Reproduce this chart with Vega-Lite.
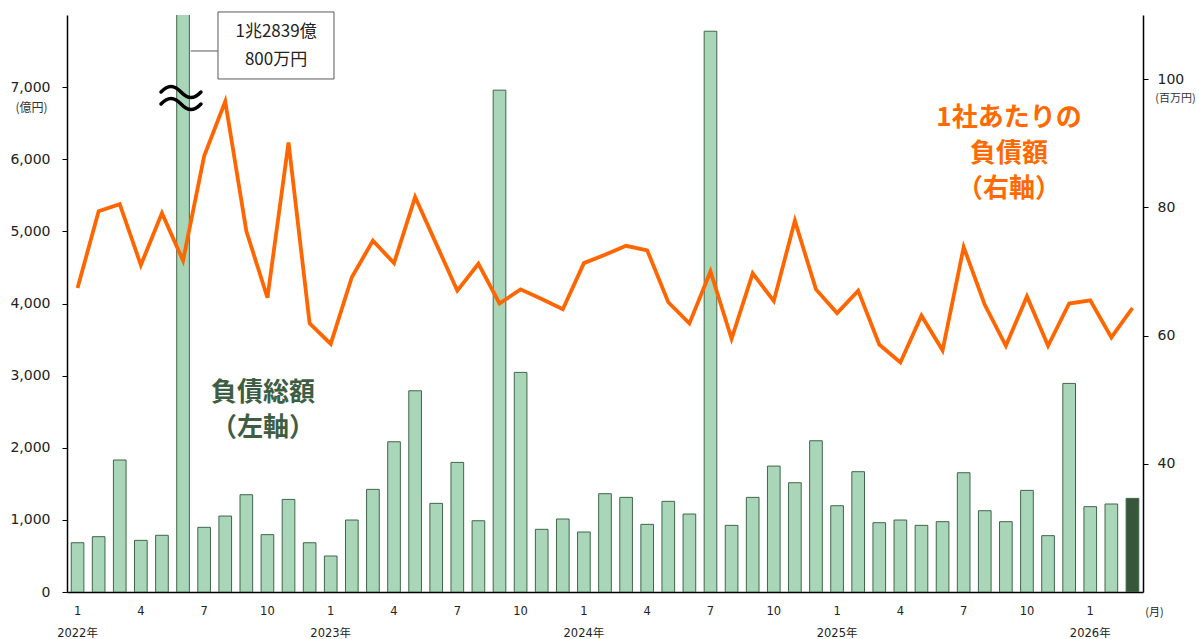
{
  "$schema": "https://vega.github.io/schema/vega-lite/v6.json",
  "width": 1076,
  "height": 577,
  "autosize": {"type": "none"},
  "padding": {"left": 67, "top": 15, "right": 56, "bottom": 47},
  "background": "white",
  "config": {"view": {"stroke": null}, "font": "DejaVu Sans"},
  "datasets": {
    "main": [
      {"m": "2022-01", "total": 683, "per": 67.4},
      {"m": "2022-02", "total": 767, "per": 79.4},
      {"m": "2022-03", "total": 1830, "per": 80.5},
      {"m": "2022-04", "total": 716, "per": 71.0},
      {"m": "2022-05", "total": 786, "per": 79.1},
      {"m": "2022-06", "total": 12839, "per": 71.7},
      {"m": "2022-07", "total": 897, "per": 88.0},
      {"m": "2022-08", "total": 1053, "per": 96.5},
      {"m": "2022-09", "total": 1349, "per": 76.3},
      {"m": "2022-10", "total": 795, "per": 65.9},
      {"m": "2022-11", "total": 1284, "per": 90.1},
      {"m": "2022-12", "total": 683, "per": 61.9},
      {"m": "2023-01", "total": 499, "per": 58.7},
      {"m": "2023-02", "total": 998, "per": 69.1},
      {"m": "2023-03", "total": 1423, "per": 74.8},
      {"m": "2023-04", "total": 2083, "per": 71.3},
      {"m": "2023-05", "total": 2790, "per": 81.6},
      {"m": "2023-06", "total": 1229, "per": 74.3},
      {"m": "2023-07", "total": 1797, "per": 67.0},
      {"m": "2023-08", "total": 988, "per": 71.2},
      {"m": "2023-09", "total": 6958, "per": 65.0},
      {"m": "2023-10", "total": 3045, "per": 67.2},
      {"m": "2023-11", "total": 869, "per": 65.7},
      {"m": "2023-12", "total": 1012, "per": 64.1},
      {"m": "2024-01", "total": 832, "per": 71.3},
      {"m": "2024-02", "total": 1363, "per": 72.6},
      {"m": "2024-03", "total": 1312, "per": 74.0},
      {"m": "2024-04", "total": 938, "per": 73.3},
      {"m": "2024-05", "total": 1257, "per": 65.2},
      {"m": "2024-06", "total": 1081, "per": 61.9},
      {"m": "2024-07", "total": 7775, "per": 70.0},
      {"m": "2024-08", "total": 924, "per": 59.5},
      {"m": "2024-09", "total": 1312, "per": 69.7},
      {"m": "2024-10", "total": 1746, "per": 65.4},
      {"m": "2024-11", "total": 1515, "per": 77.9},
      {"m": "2024-12", "total": 2097, "per": 67.2},
      {"m": "2025-01", "total": 1196, "per": 63.5},
      {"m": "2025-02", "total": 1668, "per": 67.0},
      {"m": "2025-03", "total": 961, "per": 58.6},
      {"m": "2025-04", "total": 998, "per": 55.8},
      {"m": "2025-05", "total": 924, "per": 63.1},
      {"m": "2025-06", "total": 975, "per": 57.7},
      {"m": "2025-07", "total": 1654, "per": 73.8},
      {"m": "2025-08", "total": 1127, "per": 64.8},
      {"m": "2025-09", "total": 975, "per": 58.4},
      {"m": "2025-10", "total": 1409, "per": 66.1},
      {"m": "2025-11", "total": 781, "per": 58.4},
      {"m": "2025-12", "total": 2892, "per": 65.0},
      {"m": "2026-01", "total": 1183, "per": 65.5},
      {"m": "2026-02", "total": 1220, "per": 59.7},
      {"m": "2026-03", "total": 1298, "per": 64.3}
    ]
  },
  "layer": [
    {
      "data": {"name": "main"},
      "mark": {"type": "bar", "stroke": "#40654a", "strokeWidth": 1, "clip": true},
      "encoding": {
        "x": {
          "field": "m", "type": "ordinal", "sort": null,
          "scale": {"type": "band", "paddingInner": 0.4, "paddingOuter": 0.2},
          "axis": {
            "title": "(月)", "titleFont": "Noto Sans CJK JP", "titleFontSize": 11, "titleFontWeight": "normal",
            "titleColor": "#222", "titleAngle": 0, "titleX": 1087, "titleY": 20, "titleBaseline": "middle", "titleAlign": "center",
            "labelExpr": "toNumber(substring(datum.value,5,7)) === 1 ? ['1', substring(datum.value,0,4) + '年'] : (indexof([4,7,10], toNumber(substring(datum.value,5,7))) >= 0 ? '' + toNumber(substring(datum.value,5,7)) : '')",
            "labelAngle": 0, "labelFont": "DejaVu Sans, Noto Sans CJK JP", "labelFontSize": 11.5, "labelColor": "#222",
            "labelPadding": 13, "labelBaseline": "top", "labelLineHeight": 22, "labelOverlap": false,
            "ticks": false, "domainColor": "#000", "domainWidth": 1.5, "grid": false
          }
        },
        "y": {
          "field": "total", "type": "quantitative",
          "scale": {"domain": [0, 8000], "nice": false},
          "axis": {
            "values": [0, 1000, 2000, 3000, 4000, 5000, 6000, 7000], "format": ",d",
            "labelFontSize": 14, "labelColor": "#222", "labelPadding": 12,
            "tickSize": 5, "tickColor": "#000", "domainColor": "#000", "domainWidth": 1.5, "grid": false,
            "title": "(億円)", "titleFont": "Noto Sans CJK JP", "titleFontSize": 12, "titleFontWeight": "normal",
            "titleColor": "#333", "titleAngle": 0, "titleX": -36, "titleY": 92, "titleBaseline": "middle", "titleAlign": "center"
          }
        },
        "color": {"condition": {"test": "datum.m === '2026-03'", "value": "#385639"}, "value": "#a9d6b9"}
      }
    },
    {
      "data": {"name": "main"},
      "mark": {"type": "line", "color": "#ff6600", "strokeWidth": 3.8},
      "encoding": {
        "x": {"field": "m", "type": "ordinal", "sort": null, "scale": {"type": "point", "padding": 0.5}, "axis": null},
        "y": {
          "field": "per", "type": "quantitative",
          "scale": {"domain": [20, 110], "nice": false, "zero": false},
          "axis": {
            "orient": "right", "values": [40, 60, 80, 100],
            "labelFontSize": 14, "labelColor": "#222", "labelPadding": 9,
            "tickSize": 5, "tickColor": "#000", "domainColor": "#000", "domainWidth": 1.5, "grid": false,
            "title": "(百万円)", "titleFont": "Noto Sans CJK JP", "titleFontSize": 11, "titleFontWeight": "normal",
            "titleColor": "#333", "titleAngle": 0, "titleX": 32, "titleY": 83, "titleBaseline": "middle", "titleAlign": "center"
          }
        }
      }
    },
    {
      "data": {"values": [{"x1": 7.657, "x2": 13.155, "y1": 8042, "y2": 7113}]},
      "mark": {"type": "rect", "fill": "white", "stroke": "#595959", "strokeWidth": 1},
      "encoding": {
        "x": {"field": "x1", "type": "quantitative", "scale": {"domain": [0.5, 51.5], "nice": false, "zero": false}, "axis": null},
        "x2": {"field": "x2"},
        "y": {"field": "y1", "type": "quantitative", "scale": {"domain": [0, 8000], "nice": false}, "axis": null},
        "y2": {"field": "y2"}
      }
    },
    {
      "data": {"values": [{"x1": 6.363, "x2": 7.657, "y": 7501}]},
      "mark": {"type": "rule", "stroke": "#595959", "strokeWidth": 1},
      "encoding": {
        "x": {"field": "x1", "type": "quantitative", "scale": {"domain": [0.5, 51.5], "nice": false, "zero": false}, "axis": null},
        "x2": {"field": "x2"},
        "y": {"field": "y", "type": "quantitative", "scale": {"domain": [0, 8000], "nice": false}, "axis": null}
      }
    },
    {
      "data": {"values": [{"x": 5.903, "y": 6849}]},
      "mark": {
        "type": "point",
        "shape": "M-1,-0.3 C-0.65,-0.667 -0.35,-0.667 0,-0.3 C0.35,0.067 0.65,0.067 1,-0.3 M-1,0.3 C-0.65,-0.067 -0.35,-0.067 0,0.3 C0.35,0.667 0.65,0.667 1,0.3",
        "size": 1600, "filled": false, "stroke": "#000", "strokeWidth": 3.5, "opacity": 1, "strokeCap": "round"
      },
      "encoding": {
        "x": {"field": "x", "type": "quantitative", "scale": {"domain": [0.5, 51.5], "nice": false, "zero": false}, "axis": null},
        "y": {"field": "y", "type": "quantitative", "scale": {"domain": [0, 8000], "nice": false}, "axis": null}
      }
    },
    {
      "data": {"values": [
        {"x": 10.41, "y": 7764, "t": "1兆2839億"},
        {"x": 10.41, "y": 7376, "t": "800万円"}
      ]},
      "mark": {"type": "text", "font": "Noto Sans CJK JP", "fontSize": 17, "color": "#222", "align": "center", "baseline": "middle"},
      "encoding": {
        "x": {"field": "x", "type": "quantitative", "scale": {"domain": [0.5, 51.5], "nice": false, "zero": false}, "axis": null},
        "y": {"field": "y", "type": "quantitative", "scale": {"domain": [0, 8000], "nice": false}, "axis": null},
        "text": {"field": "t"}
      }
    },
    {
      "data": {"values": [
        {"x": 9.79, "y": 2759, "t": "負債総額"},
        {"x": 9.79, "y": 2274, "t": "（左軸）"}
      ]},
      "mark": {"type": "text", "font": "Noto Sans CJK JP", "fontSize": 26, "fontWeight": "bold", "color": "#3d5e43", "align": "center", "baseline": "middle"},
      "encoding": {
        "x": {"field": "x", "type": "quantitative", "scale": {"domain": [0.5, 51.5], "nice": false, "zero": false}, "axis": null},
        "y": {"field": "y", "type": "quantitative", "scale": {"domain": [0, 8000], "nice": false}, "axis": null},
        "text": {"field": "t"}
      }
    },
    {
      "data": {"values": [
        {"x": 45.15, "y": 6568, "t": "1社あたりの"},
        {"x": 45.15, "y": 6073, "t": "負債額"},
        {"x": 45.15, "y": 5583, "t": "（右軸）"}
      ]},
      "mark": {"type": "text", "font": "Noto Sans CJK JP", "fontSize": 26, "fontWeight": "bold", "color": "#ff6a00", "align": "center", "baseline": "middle"},
      "encoding": {
        "x": {"field": "x", "type": "quantitative", "scale": {"domain": [0.5, 51.5], "nice": false, "zero": false}, "axis": null},
        "y": {"field": "y", "type": "quantitative", "scale": {"domain": [0, 8000], "nice": false}, "axis": null},
        "text": {"field": "t"}
      }
    }
  ],
  "resolve": {"scale": {"x": "independent", "y": "independent"}}
}
